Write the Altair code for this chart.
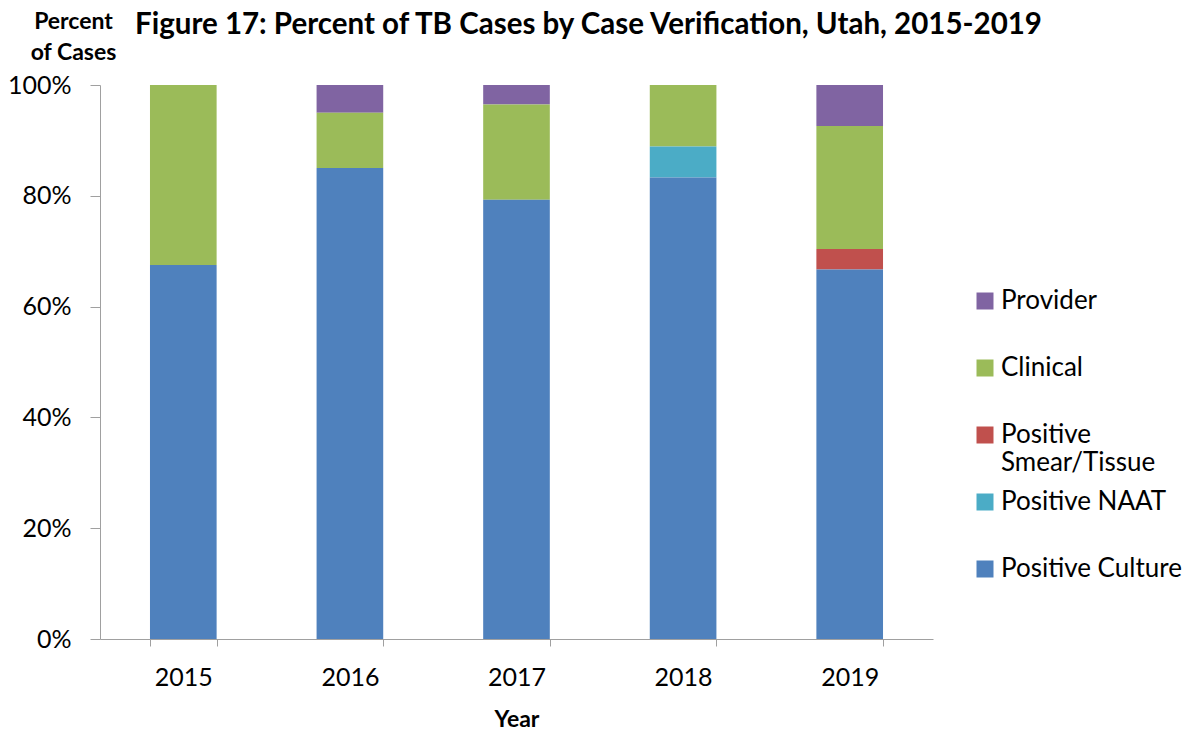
import altair as alt
import pandas as pd

years = ["2015", "2016", "2017", "2018", "2019"]
categories = ["Provider", "Clinical", "Positive Smear/Tissue", "Positive NAAT", "Positive Culture"]
colors = ["#8064A2", "#9BBB59", "#C0504D", "#4BACC6", "#4F81BD"]
stack_rank = [4, 3, 2, 1, 0]

positive_culture = [67.5, 85.0, 79.3, 83.3, 66.7]
positive_naat = [0.0, 0.0, 0.0, 5.6, 0.0]
positive_smear = [0.0, 0.0, 0.0, 0.0, 3.7]
clinical = [32.5, 10.0, 17.2, 11.1, 22.2]
provider = [0.0, 5.0, 3.5, 0.0, 7.4]

series = {
    "Provider": provider,
    "Clinical": clinical,
    "Positive Smear/Tissue": positive_smear,
    "Positive NAAT": positive_naat,
    "Positive Culture": positive_culture,
}

rows = []
for cat, rank in zip(categories, stack_rank):
    for y, v in zip(years, series[cat]):
        rows.append({"Year": y, "Verification": cat, "Percent": v, "rank": rank})
df = pd.DataFrame(rows)

FONT = "Lato"

chart = alt.Chart(df).mark_bar().encode(
    x=alt.X("Year:N", title="Year",
            scale=alt.Scale(paddingInner=0.6, paddingOuter=0.3),
            axis=alt.Axis(labelAngle=0, tickBand="extent", tickSize=7,
                          labelPadding=19, titlePadding=18)),
    y=alt.Y("Percent:Q", stack="zero",
            scale=alt.Scale(domain=[0, 100], nice=False),
            axis=alt.Axis(values=[0, 20, 40, 60, 80, 100], tickSize=10,
                          labelExpr="datum.value + '%'", labelPadding=19,
                          title=["Percent", "of Cases"], titleAngle=0,
                          titleAlign="center", titleBaseline="alphabetic",
                          titleX=-27, titleY=-57, titleLineHeight=31)),
    color=alt.Color("Verification:N",
                    scale=alt.Scale(domain=categories, range=colors),
                    legend=alt.Legend(title=None, orient="none", legendX=872, legendY=203,
                                      symbolType="square", symbolSize=289,
                                      symbolStrokeWidth=0, labelFontSize=26,
                                      labelFont=FONT, rowPadding=13, padding=0,
                                      labelOffset=3, labelLimit=300,
                                      labelExpr="datum.label == 'Positive Smear/Tissue' ? ['Positive', 'Smear/Tissue'] : [datum.label, '']")),
    order=alt.Order("rank:Q", sort="ascending"),
).properties(
    width=833,
    height=554,
    padding={"left": 92, "top": 77, "right": 259, "bottom": 89},
    autosize=alt.AutoSizeParams(type="none"),
    title=alt.TitleParams("Figure 17: Percent of TB Cases by Case Verification, Utah, 2015-2019",
                          font=FONT, fontSize=29.5, fontWeight="bold", anchor="middle",
                          dx=72, offset=0, dy=30),
).configure_view(stroke=None).configure_axis(
    labelFont=FONT, titleFont=FONT, labelFontSize=25, titleFontSize=23,
    titleFontWeight="bold", labelColor="black", titleColor="black",
    domainColor="#A0A0A0", tickColor="#A0A0A0", grid=False,
)

chart.save("out.html", embed_options={"renderer": "svg", "actions": False})
